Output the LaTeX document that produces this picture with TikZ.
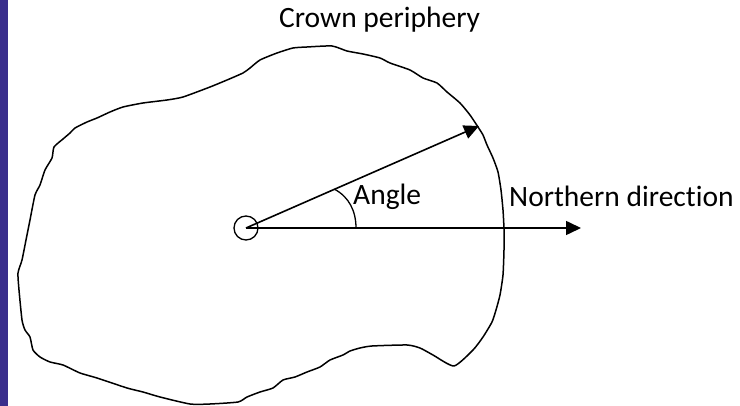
\documentclass[tikz,border=0pt]{standalone}
\usepackage{fontspec}
\setmainfont[Ligatures=NoCommon]{Carlito}
\usetikzlibrary{arrows.meta,calc}
\definecolor{sidebar}{RGB}{58,46,140}

\begin{document}
\begin{tikzpicture}[x=1pt, y=-1pt, >={Triangle[length=15pt,width=14pt]}, line join=round,
    label/.style={font=\fontsize{29.5}{35}\selectfont, inner sep=0pt, anchor=base west}]
  \useasboundingbox (0,0) rectangle (740,406);

  % Side bar on the left edge
  \fill[sidebar] (0,0) rectangle (8,406);

  % Crown outline (hand drawn, wobbly)
  \draw[line width=1.5pt] plot[smooth cycle, tension=0.35] coordinates {
    (307,47) (332,46) (347,51) (363,54) (380,58) (390,63) (410,70) (423,78)
    (437,83) (447,92) (460,103) (470,115) (478,127) (483,135) (487,145)
    (493,158) (498,172) (501,190) (503,210) (504,229) (504,250) (503,275)
    (500,295) (496,310) (492,322) (483,337) (473,350) (454,366) (433,355)
    (420,348) (407,345) (372,346) (360,348) (350,351) (343,355) (330,360)
    (320,367) (307,372) (295,377) (283,380) (273,388) (260,392) (247,397)
    (238,402) (210,404) (190,404) (160,397) (143,392) (127,388) (97,378)
    (80,373) (63,365) (50,362) (40,357) (33,350) (30,337) (25,330) (22,320)
    (19,290) (18,273) (22,260) (26,240) (30,220) (35,195) (40,185) (45,170)
    (52,158) (54,147) (63,139) (70,133) (75,128) (87,122) (97,118) (110,112)
    (123,107) (143,103) (167,100) (183,97) (210,87) (227,80) (243,73)
    (250,68) (260,60) (277,53) (293,48)};

  % Tree stem and the two directions
  \node[draw, circle, line width=1.3pt, minimum size=24pt, inner sep=0pt] (centre) at (246,228) {};
  \coordinate (crowntip) at (479,126);
  \coordinate (northtip) at (581,228);
  \draw[->, line width=1.6pt] (centre.center) -- (crowntip);
  \draw[->, line width=1.6pt] (centre.center) -- (northtip);

  % Angle mark
  \coordinate (arcstart) at ($(centre.center)!0.38!(crowntip)$);
  \coordinate (arcend) at (356,228);
  \draw[line width=1.3pt] (arcstart) .. controls (349,197) and (356,211) .. (arcend);

  % Labels
  \node[label] (crownlabel) at (279,28) {Crown periphery};
  \node[label] (anglelabel) at (353,205) {Angle};
  \node[label] (northlabel) at (509,207) {Northern direction};
\end{tikzpicture}
\end{document}
